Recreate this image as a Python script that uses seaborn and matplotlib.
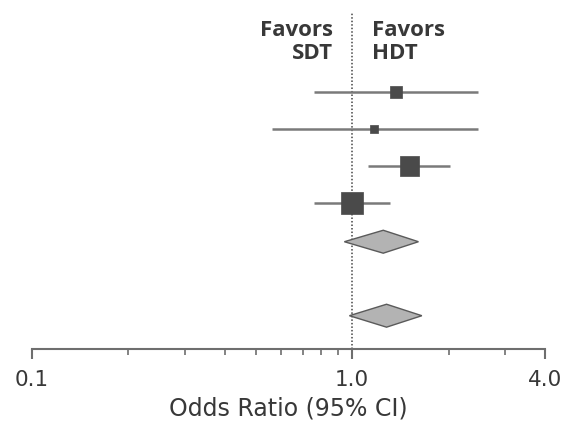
import matplotlib
matplotlib.use("Agg")
import matplotlib.pyplot as plt
import matplotlib.ticker as mticker
import seaborn as sns
import pandas as pd
import numpy as np

# Study-level estimates (odds ratios with 95% CI)
study_rows = [0, 1, 2, 3]
study_or = [1.37, 1.17, 1.51, 1.00]
study_lo = [0.76, 0.56, 1.12, 0.76]
study_hi = [2.47, 2.47, 2.02, 1.31]
study_weight = [75, 33, 205, 250]

# Pooled estimates (diamonds)
pooled_rows = [4.05, 6.05]
pooled_or = [1.25, 1.28]
pooled_lo = [0.945, 0.98]
pooled_hi = [1.61, 1.65]

tick_values = [0.1, 1.0, 4.0]
tick_labels = ["0.1", "1.0", "4.0"]
minor_values = [0.2, 0.3, 0.4, 0.5, 0.6, 0.7, 0.8, 0.9, 2.0, 3.0]

sns.set_theme(style="white")
plt.rcParams["font.family"] = ["DejaVu Sans"]

df = pd.DataFrame({"row": study_rows, "OR": study_or, "lo": study_lo,
                   "hi": study_hi, "w": study_weight})

fig = plt.figure(figsize=(5.65, 4.21), dpi=100)
ax = fig.add_axes([32 / 565, (421 - 349) / 421, (545 - 32) / 565, (349 - 12) / 421])

ax.set_xscale("log")
ax.set_xlim(0.1, 4.0)
ax.set_ylim(6.95, -2.16)

# reference line
ax.axvline(1.0, color="#444444", linestyle=(0, (1.0, 1.3)), linewidth=1.1, zorder=1)

# CI lines
ax.hlines(df["row"], df["lo"], df["hi"], color="#7a7a7a", linewidth=1.8, zorder=2)

# squares
sns.scatterplot(data=df, x="OR", y="row", marker="s", s=df["w"].to_numpy(),
                color="#4a4a4a", edgecolor="#4a4a4a", linewidth=0.5, ax=ax,
                legend=False, zorder=3)

# diamonds
for r, lo, est, hi in zip(pooled_rows, pooled_lo, pooled_or, pooled_hi):
    h = 0.31
    ax.fill([lo, est, hi, est], [r, r - h, r, r + h], facecolor="#b3b3b3",
            edgecolor="#5a5a5a", linewidth=1.0, zorder=3)

# axis styling
for s in ["left", "top", "right"]:
    ax.spines[s].set_visible(False)
ax.spines["bottom"].set_color("#6e6e6e")
ax.spines["bottom"].set_linewidth(1.5)
ax.set_yticks([])
ax.set_ylabel("")
ax.xaxis.set_major_locator(mticker.FixedLocator(tick_values))
ax.xaxis.set_major_formatter(mticker.FixedFormatter(tick_labels))
ax.xaxis.set_minor_locator(mticker.FixedLocator(minor_values))
ax.xaxis.set_minor_formatter(mticker.NullFormatter())
ax.tick_params(axis="x", which="major", direction="out", length=7.5, width=1.5,
               color="#6e6e6e", labelsize=15.5, labelcolor="#383838", pad=7.5, bottom=True)
ax.tick_params(axis="x", which="minor", direction="out", length=4.0, width=1.2,
               color="#6e6e6e", bottom=True)
ax.set_xlabel("Odds Ratio (95% CI)", fontsize=17, color="#383838", labelpad=5)

# favors labels
fav_font = ["Open Sans", "DejaVu Sans"]
ax.text(0.872, -1.36, "Favors\nSDT", ha="right", va="center", fontsize=16,
        fontweight="bold", color="#383838", linespacing=1.12, family=fav_font)
ax.text(1.155, -1.36, "Favors\nHDT", ha="left", va="center", fontsize=16,
        fontweight="bold", color="#383838", linespacing=1.12, family=fav_font)

fig.savefig("out.png", dpi=100)
